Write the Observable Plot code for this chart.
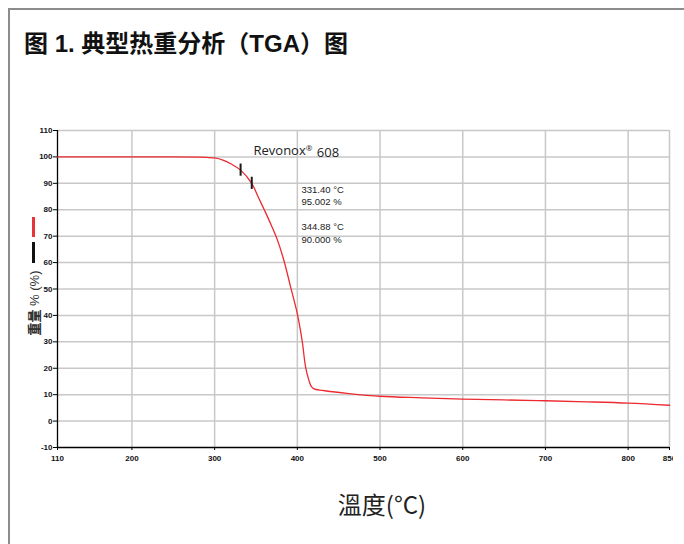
<!DOCTYPE html>
<html>
<head>
<meta charset="utf-8">
<script src="https://cdn.jsdelivr.net/npm/d3@7"></script>
<script src="https://cdn.jsdelivr.net/npm/@observablehq/plot@0.6"></script>
<style>
  html, body { margin: 0; padding: 0; background: #fff; width: 684px; height: 544px; overflow: hidden; }
  #wrap { position: relative; width: 684px; height: 544px; }
  #frame { position: absolute; left: 8px; top: 8px; width: 690px; height: 560px; border-top: 2px solid #8c8c8c; border-left: 2px solid #8c8c8c; }
  #title { position: absolute; left: 24px; top: 24px; font-family: "Liberation Sans", "Noto Sans CJK SC", sans-serif; font-weight: bold; font-size: 24px; color: #111; white-space: nowrap; }
  #chart { position: absolute; left: 0; top: 0; }
  #ylabel { position: absolute; left: 33px; top: 303px; transform: translate(-50%, -50%) rotate(-90deg); font-family: "Liberation Sans", "Noto Sans CJK SC", sans-serif; font-size: 13px; color: #333; white-space: nowrap; }
  #ylabel b { font-family: "Noto Sans CJK SC"; font-weight: 900; }
  .leg { position: absolute; width: 2.5px; left: 32px; }
  #xlabel { position: absolute; left: 382px; top: 503px; transform: translate(-50%, -50%); font-family: "Noto Sans CJK TC", sans-serif; font-size: 24px; color: #222; white-space: nowrap; }
</style>
</head>
<body>
<div id="wrap">
  <div id="frame"></div>
  <div id="title">图 1. 典型热重分析（TGA）图</div>
  <div id="chart"></div>
  <div class="leg" style="top:217px;height:20px;background:#e8333a"></div>
  <div class="leg" style="top:242px;height:21px;background:#111"></div>
  <div id="ylabel"><b>重量</b> % (%)</div>
  <div id="xlabel">溫度(°C)</div>
</div>
<script>
// Temperature (°C) and weight (%)
const temperature = [110,150,200,250,280,290,300,310,320,331.4,344.88,352,360,368,376,384,392,400,406,410,414,417,420,430,440,460,500,550,600,650,700,750,800,850];
const weight      = [100,100,100,100,99.9,99.8,99.6,98.8,97.3,95.002,90.0,85.3,80.0,74.5,68.5,60.5,50.6,40.6,30.0,20.4,15.4,13.0,12.2,11.6,11.2,10.5,9.4,8.8,8.3,8.0,7.7,7.3,6.8,6.0];

const markerTemp = [331.40, 344.88];
const markerWeight = [95.002, 90.000];

const xTicks = [110,200,300,400,500,600,700,800,850];
const yTicks = [-10,0,10,20,30,40,50,60,70,80,90,100,110];

const sampleName = "Revonox® 608";
const sampleLabelPos = {x: 347, y: 102.4};
const noteLines = ["331.40 °C", "95.002 %", "344.88 °C", "90.000 %"];
const noteY = [87.6, 83.1, 73.3, 68.7];
const noteX = 405;

const curve = temperature.map((t, i) => ({t, w: weight[i]}));
const markers = markerTemp.map((t, i) => ({t, w: markerWeight[i]}));
const notes = noteLines.map((s, i) => ({s, x: noteX, y: noteY[i]}));

const chart = Plot.plot({
  width: 673,
  height: 544,
  marginLeft: 57,
  marginRight: 4,
  marginTop: 130,
  marginBottom: 97,
  style: {fontFamily: "Liberation Sans, Arial, sans-serif", fontSize: "8px", color: "#111", background: "transparent", overflow: "hidden"},
  x: {domain: [110, 850], label: null},
  y: {domain: [-10, 110], label: null},
  marks: [
    Plot.ruleX(xTicks.filter(d => d !== 110), {stroke: "#c8c8c8", strokeWidth: 1.5}),
    Plot.ruleY(yTicks.filter(d => d !== -10), {stroke: "#c8c8c8", strokeWidth: 1.5}),
    Plot.ruleX([110], {stroke: "#000", strokeWidth: 1.3}),
    Plot.ruleY([-10], {stroke: "#000", strokeWidth: 1.3}),
    Plot.axisY({ticks: yTicks, tickSize: 4, tickPadding: 1, tickFormat: d => String(d), fontWeight: "bold", fontSize: 8, stroke: "#000", label: null}),
    Plot.axisX({ticks: xTicks, tickSize: 3, tickPadding: 5, tickFormat: d => String(d), fontWeight: "bold", fontSize: 8, stroke: "#000", label: null}),
    Plot.line(curve, {x: "t", y: "w", stroke: "#ec2a30", strokeWidth: 1.3, curve: "catmull-rom"}),
    Plot.ruleX(markers, {x: "t", y1: d => d.w - 2.3, y2: d => d.w + 2.3, stroke: "#1a1a1a", strokeWidth: 2}),
    Plot.text([sampleName], {x: sampleLabelPos.x, y: sampleLabelPos.y, text: d => d, textAnchor: "start", fontFamily: "Open Sans, sans-serif", fontSize: 13, fontWeight: "normal", fill: "#222", className: "sample-name"}),
    Plot.text(notes, {x: "x", y: "y", text: "s", textAnchor: "start", fontFamily: "Liberation Sans, Arial, sans-serif", fontSize: 9.5, fontWeight: "normal", fill: "#222"})
  ]
});
// render the ® as a small superscript
d3.select(chart).selectAll(".sample-name text").each(function() {
  const t = this.textContent;
  const i = t.indexOf("®");
  if (i < 0) return;
  const el = d3.select(this);
  el.text(null);
  el.append("tspan").text(t.slice(0, i));
  el.append("tspan").text("®").attr("font-size", 8).attr("dy", "-0.45em");
  el.append("tspan").text(t.slice(i + 1)).attr("dy", "0.45em").attr("dx", 1);
});
document.getElementById("chart").appendChild(chart);
</script>
</body>
</html>
